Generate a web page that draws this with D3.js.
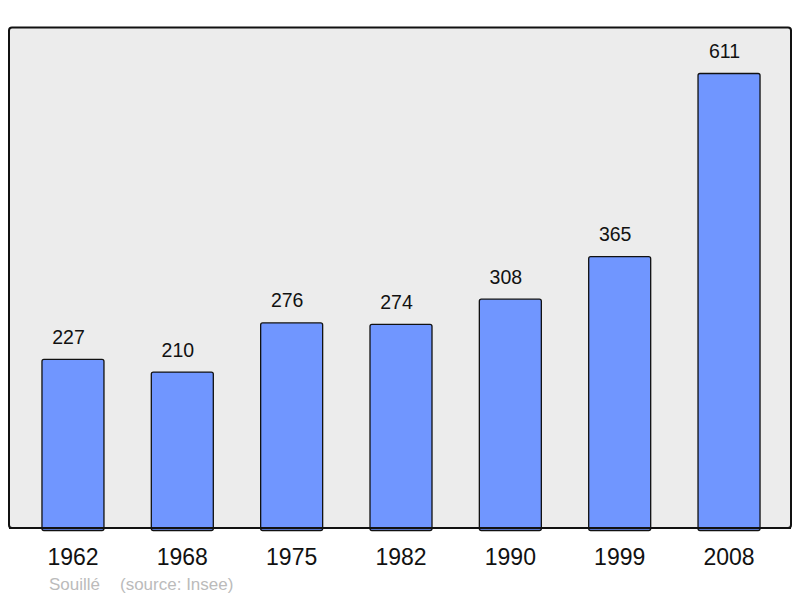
<!DOCTYPE html>
<html><head><meta charset="utf-8">
<script src="https://cdn.jsdelivr.net/npm/d3@7"></script>
<style>body{margin:0;background:#fff}svg{display:block}</style>
</head><body>
<svg id="c" width="800" height="598"></svg>
<script>
const years = ["1962","1968","1975","1982","1990","1999","2008"];
const population = [227,210,276,274,308,365,611];
const commune = "Souillé";
const source = "(source: Insee)";

const svg = d3.select("#c");
const font = "'Liberation Sans', Arial, sans-serif";

svg.append("rect").attr("x",9).attr("y",27.5).attr("width",782).attr("height",500.5)
  .attr("rx",3).attr("fill","#ececec").attr("stroke","#111").attr("stroke-width",2);

const x = d3.scaleBand().domain(years).range([18.3,783.7]).paddingInner(0.433).paddingOuter(0.2165);
const y = d3.scaleLinear().domain([0,611]).range([528,73]);

const data = years.map((yr,i)=>({yr,v:population[i]}));

svg.selectAll("rect.bar").data(data).enter().append("rect").attr("class","bar")
  .attr("x",d=>x(d.yr)).attr("y",d=>y(d.v)+0.5)
  .attr("width",x.bandwidth()).attr("height",d=>528-y(d.v)+2)
  .attr("rx",2).attr("fill","#7096ff").attr("stroke","#111").attr("stroke-width",1.3);

svg.append("line").attr("x1",9).attr("x2",791).attr("y1",528).attr("y2",528)
  .attr("stroke","#111").attr("stroke-width",2);

svg.selectAll("text.val").data(data).enter().append("text").attr("class","val")
  .attr("x",d=>x(d.yr)+x.bandwidth()/2-4.5).attr("y",d=>y(d.v)-15)
  .attr("text-anchor","middle").attr("font-family",font).attr("font-size",19.5).attr("fill","#111")
  .text(d=>d.v);

const axis = d3.axisBottom(x).tickSize(0).tickPadding(0);
const g = svg.append("g").attr("transform","translate(0,528)").call(axis);
g.select(".domain").remove();
g.selectAll("text").attr("font-family",font).attr("font-size",23).attr("fill","#111")
  .attr("dy",0).attr("y",37);

svg.append("text").attr("x",49).attr("y",590).attr("font-family",font).attr("font-size",17)
  .attr("fill","#bbb").text(commune);
svg.append("text").attr("x",120).attr("y",590).attr("font-family",font).attr("font-size",17)
  .attr("fill","#bbb").text(source);
</script>
</body></html>
